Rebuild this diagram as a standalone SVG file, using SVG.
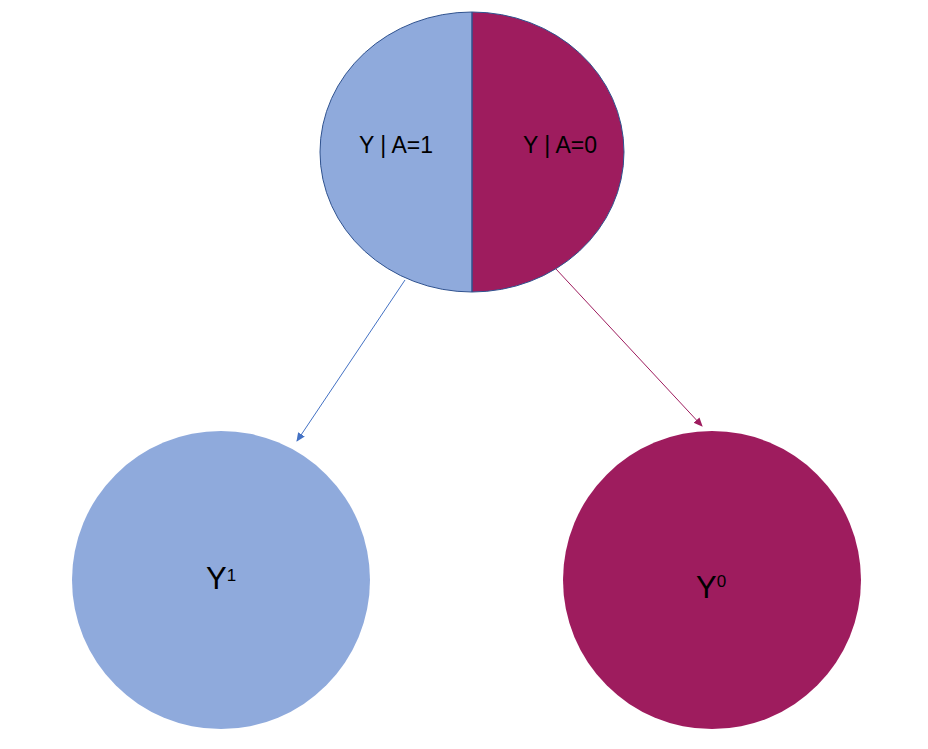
<svg xmlns="http://www.w3.org/2000/svg" width="928" height="749" viewBox="0 0 928 749">
<style>
text{font-family:"Liberation Sans",Arial,sans-serif;fill:#000}
.blue{fill:#8FAADC}
.plum{fill:#9E1C5E}
</style>
<defs>
<marker id="ab" markerWidth="10" markerHeight="10" refX="8" refY="5" orient="auto" markerUnits="userSpaceOnUse"><path d="M0,1 L9,5 L0,9 z" fill="#4472C4"/></marker>
<marker id="ap" markerWidth="10" markerHeight="10" refX="8" refY="5" orient="auto" markerUnits="userSpaceOnUse"><path d="M0,1 L9,5 L0,9 z" fill="#9E1C5E"/></marker>
</defs>
<rect width="928" height="749" fill="#fff"/>
<g id="top">
<path class="blue" d="M472,12 A152,140 0 0 0 472,292 Z"/>
<path class="plum" d="M472,12 A152,140 0 0 1 472,292 Z"/>
<ellipse cx="472" cy="152" rx="152" ry="140" fill="none" stroke="#2F528F" stroke-width="1"/>
<line x1="472" y1="12" x2="472" y2="292" stroke="#2F528F" stroke-width="1.5"/>
<text x="396" y="153" font-size="23" text-anchor="middle">Y | A=1</text>
<text x="560" y="153" font-size="23" text-anchor="middle">Y | A=0</text>
</g>
<g id="y1">
<circle class="blue" cx="221" cy="580" r="149"/>
<text x="206" y="589" font-size="31">Y<tspan font-size="17" dy="-8">1</tspan></text>
</g>
<g id="y0">
<circle class="plum" cx="712" cy="580" r="149"/>
<text x="696" y="598" font-size="31">Y<tspan font-size="17" dy="-11">0</tspan></text>
</g>
<g id="connectors">
<line x1="405" y1="280" x2="297" y2="441" stroke="#4472C4" stroke-width="1" marker-end="url(#ab)"/>
<line x1="556" y1="269" x2="702" y2="426" stroke="#9E1C5E" stroke-width="1" marker-end="url(#ap)"/>
</g>
</svg>
